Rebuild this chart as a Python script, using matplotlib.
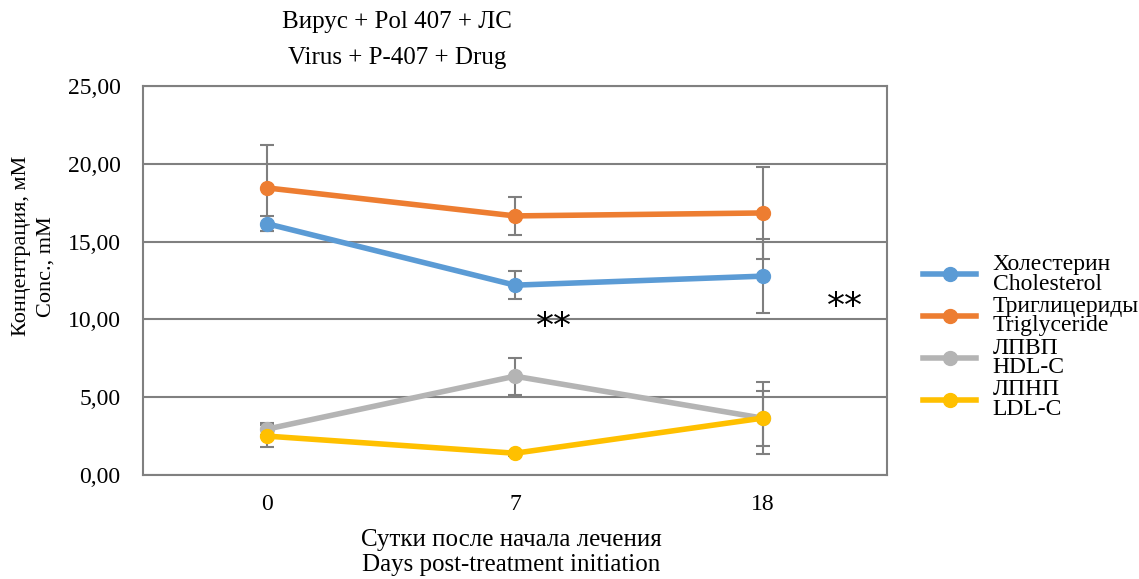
import matplotlib
matplotlib.use("Agg")
import matplotlib.pyplot as plt
import numpy as np

plt.rcParams['font.family'] = ['Liberation Serif', 'DejaVu Serif']

days = ["0", "7", "18"]

chol = [16.15, 12.2, 12.78]
chol_err = [0.5, 0.9, 2.4]
trig = [18.45, 16.65, 16.84]
trig_err = [2.75, 1.2, 2.95]
hdl = [2.95, 6.35, 3.65]
hdl_err = [0.4, 1.18, 2.3]
ldl = [2.5, 1.4, 3.66]
ldl_err = [0.7, 0.15, 1.77]

series_names = ["Холестерин\nCholesterol", "Триглицериды\nTriglyceride",
                "ЛПВП\nHDL-C", "ЛПНП\nLDL-C"]
colors = ["#5B9BD5", "#ED7D31", "#B4B4B4", "#FFC000"]

stars = [(1.157, 9.5), (2.33, 10.8)]

fig = plt.figure(figsize=(11.39, 5.79), dpi=100)
ax = fig.add_axes([0.1255, 0.1796, 0.6533, 0.6719])

x = np.arange(len(days))
handles = []
for vals, errs, name, c in zip([chol, trig, hdl, ldl],
                               [chol_err, trig_err, hdl_err, ldl_err],
                               series_names, colors):
    ax.errorbar(x, vals, yerr=errs, fmt='none', ecolor='#7F7F7F',
                elinewidth=1.5, capsize=5, capthick=1.5, zorder=2)
    h, = ax.plot(x, vals, color=c, lw=4, marker='o', ms=10, label=name, zorder=3)
    handles.append(h)

for sx, sy in stars:
    ax.text(sx, sy, "**", fontsize=26, ha='center', va='center',
            family=['DejaVu Sans'])

ax.set_xlim(-0.5, 2.5)
ax.set_ylim(0, 25)
ax.set_yticks([0, 5, 10, 15, 20, 25])
ax.set_yticklabels(["0,00", "5,00", "10,00", "15,00", "20,00", "25,00"])
ax.set_xticks(x)
ax.set_xticklabels(days)
ax.tick_params(length=0, labelsize=17)
ax.tick_params(axis='y', pad=16)
ax.tick_params(axis='x', pad=14)
ax.yaxis.grid(True, color='#808080', lw=1.5)
ax.set_axisbelow(True)
for s in ax.spines.values():
    s.set_color('#808080')
    s.set_linewidth(1.5)

# axis titles, two lines each
fig.text(22 / 1139, 1 - 246 / 579, "Концентрация, мМ", fontsize=16,
         rotation=90, ha='center', va='center')
fig.text(46 / 1139, 1 - 267 / 579, "Conc., mM", fontsize=16,
         rotation=90, ha='center', va='center')
fig.text(511 / 1139, 1 - 540 / 579, "Сутки после начала лечения", fontsize=18,
         ha='center', va='center')
fig.text(511 / 1139, 1 - 565 / 579, "Days post-treatment initiation", fontsize=18,
         ha='center', va='center')

fig.text(397 / 1139, 1 - 22 / 579, "Вирус + Pol 407 + ЛС", fontsize=18,
         ha='center', va='center')
fig.text(397 / 1139, 1 - 58 / 579, "Virus + P-407 + Drug", fontsize=18,
         ha='center', va='center')

leg = fig.legend(handles=handles, loc='center left',
                 bbox_to_anchor=(923 / 1139, 1 - 337 / 579),
                 frameon=False, fontsize=17, handlelength=2.25, labelspacing=0.05,
                 handletextpad=0.7, borderaxespad=0, borderpad=0)
for t in leg.get_texts():
    t.set_linespacing(0.92)

fig.savefig("out.png", dpi=100)
